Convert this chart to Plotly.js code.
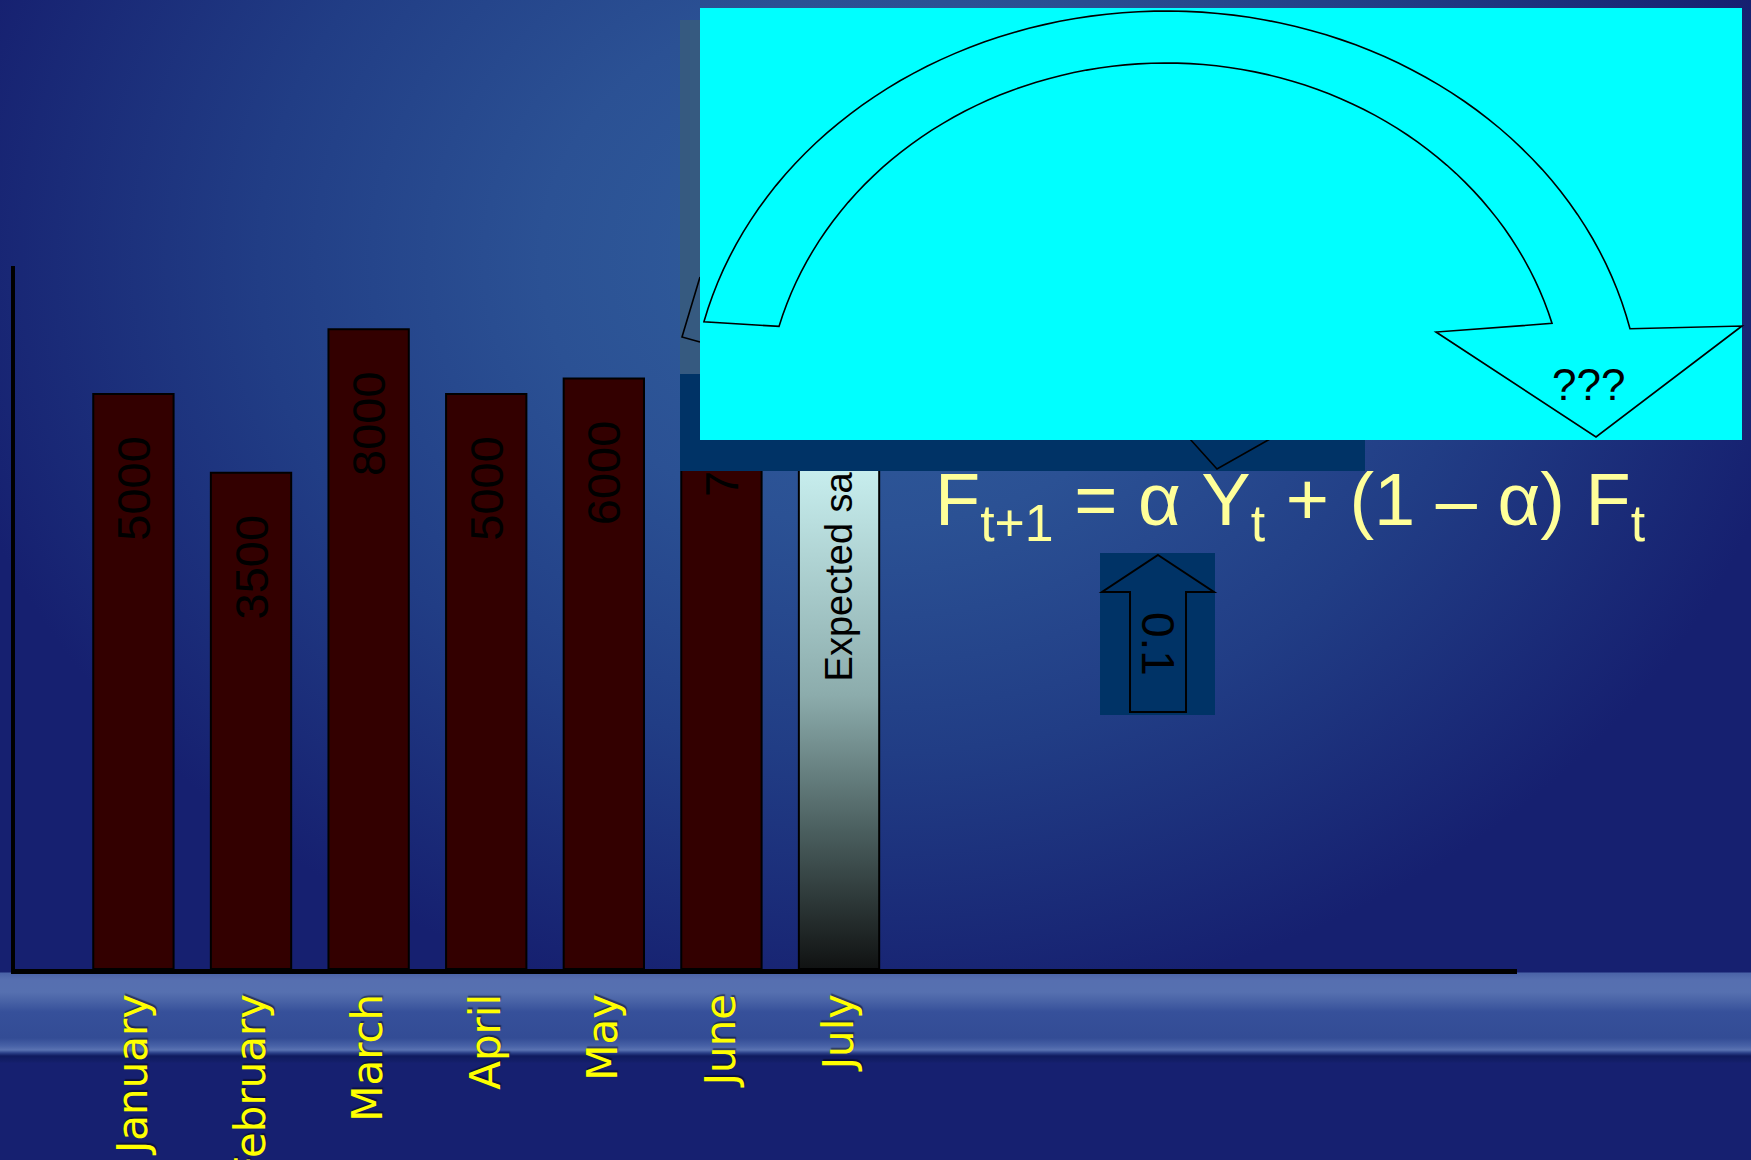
<!DOCTYPE html>
<html>
<head>
<meta charset="utf-8">
<script src="https://cdn.plot.ly/plotly-3.0.1.min.js"></script>
<style>
  body { margin: 0; background: #161f6c; }
  #myPlot {
    width: 1751px;
    height: 1160px;
    background:
      linear-gradient(to bottom, rgba(0,0,0,0) 972px, #4a63a7 973px, #566fb0 980px, #5670b0 992px, #4761a5 1002px, #36509a 1012px, #334c95 1038px, #4862a7 1046px, #5a73b2 1050px, #2a3f88 1053px, #0f1a5e 1056px, #141f6a 1062px, rgba(0,0,0,0) 1063px),
      radial-gradient(ellipse 940px 760px at 870px 260px, #31609e 0%, #2b5194 35%, #213d85 65%, #162070 100%);
  }
</style>
</head>
<body>
<div id="myPlot"></div>
<script>
// chart data
const months = ["January", "February", "March", "April", "May", "June", "July"];
const salesLabels = [5000, 3500, 8000, 5000, 6000, 7000];
const forecastLabel = "Expected sales";
// bar lengths as drawn on the slide, in % of the y axis height (not to scale with the labels)
const barHeights = [81.8, 70.6, 91.0, 81.8, 84.0, 88.0, 78.0];
const alphaLabel = "0.1";
const unknownLabel = "???";

const W = 1751;
const H = 1160;
const barWidth = 0.683;

// pixel -> paper helpers for the drawn decorations
const px = (x) => x / W;
const py = (y) => 1 - y / H;
const toPath = (pts, close) =>
  "M" + pts.map((p) => px(p[0]).toFixed(5) + "," + py(p[1]).toFixed(5)).join("L") + (close ? "Z" : "");

// elliptical arc points, angles in degrees
function arc(cx, cy, rx, ry, a0, a1, n) {
  const pts = [];
  for (let k = 0; k <= n; k++) {
    const t = ((a0 + (a1 - a0) * k / n) * Math.PI) / 180;
    pts.push([cx + rx * Math.cos(t), cy - ry * Math.sin(t)]);
  }
  return pts;
}

const xIdx = months.map((m, i) => i);
const pad = "\u00a0\u00a0\u00a0";
const barText = salesLabels.map((v) => v + pad).concat([forecastLabel]);
const barColors = salesLabels.map(() => "#330000").concat(["rgba(0,0,0,0)"]);
const textSizes = salesLabels.map(() => 47).concat([38]);

const bars = {
  type: "bar",
  x: xIdx,
  y: barHeights,
  width: barWidth,
  marker: { color: barColors, line: { color: "black", width: 2 } },
  text: barText,
  textposition: "inside",
  insidetextanchor: "end",
  textangle: -90,
  constraintext: "none",
  textfont: { family: "Liberation Sans, Arial, sans-serif", size: textSizes, color: "black" },
  hoverinfo: "skip",
};

// gradient fill for the forecast bar
const gradSvg =
  "<svg xmlns='http://www.w3.org/2000/svg' width='10' height='100' preserveAspectRatio='none'>" +
  "<defs><linearGradient id='g' x1='0' y1='0' x2='0' y2='1'>" +
  "<stop offset='0' stop-color='#d4fcfc'/><stop offset='0.5' stop-color='#8cacac'/>" +
  "<stop offset='0.75' stop-color='#4a5e5e'/><stop offset='1' stop-color='#101212'/>" +
  "</linearGradient></defs><rect width='10' height='100' fill='url(#g)'/></svg>";
const last = months.length - 1;

// big curved arrow
const outerArc = arc(1166, 420, 476, 409, 166.1, 12.9, 80);
const innerArc = arc(1166, 420, 401, 357, 15.7, 164.8, 80);
const bigArrow = outerArc.concat([[1742, 326], [1596, 437], [1436, 332]], innerArc);

const line = { color: "black", width: 1.6 };
const shapes = [
  { type: "rect", xref: "paper", yref: "paper", x0: px(680), x1: px(1365), y0: py(374), y1: py(20),
    fillcolor: "#365a80", line: { width: 0 }, layer: "above" },
  { type: "rect", xref: "paper", yref: "paper", x0: px(680), x1: px(1365), y0: py(471), y1: py(374),
    fillcolor: "#003366", line: { width: 0 }, layer: "above" },
  { type: "path", xref: "paper", yref: "paper", path: toPath([[700, 277], [682, 337], [700, 342]]),
    line: line, layer: "above" },
  { type: "path", xref: "paper", yref: "paper", path: toPath([[1190, 439], [1217, 469], [1270, 439]]),
    line: line, layer: "above" },
  { type: "rect", xref: "paper", yref: "paper", x0: px(700), x1: px(1742), y0: py(440), y1: py(8),
    fillcolor: "#00ffff", line: { width: 0 }, layer: "above" },
  { type: "path", xref: "paper", yref: "paper", path: toPath(bigArrow, true),
    fillcolor: "#00ffff", line: line, layer: "above" },
  // small up arrow for alpha
  { type: "rect", xref: "paper", yref: "paper", x0: px(1100), x1: px(1215), y0: py(715), y1: py(553),
    fillcolor: "#003366", line: { width: 0 }, layer: "above" },
  { type: "path", xref: "paper", yref: "paper",
    path: toPath([[1158, 555], [1214, 592], [1186, 592], [1186, 712], [1130, 712], [1130, 592], [1102, 592]], true),
    fillcolor: "#003366", line: { color: "black", width: 2 }, layer: "above" },
];

const annotations = [
  { xref: "paper", yref: "paper", x: px(933), y: py(505), xanchor: "left", yanchor: "middle",
    text: "F<sub>t+1</sub> = α Y<sub>t</sub> + (1 – α) F<sub>t</sub>", showarrow: false,
    font: { family: "Liberation Sans, Arial, sans-serif", size: 74, color: "#ffff99" } },
  { xref: "paper", yref: "paper", x: px(1588), y: py(385), xanchor: "center", yanchor: "middle",
    text: unknownLabel, showarrow: false,
    font: { family: "Liberation Sans, Arial, sans-serif", size: 44, color: "black" } },
  { xref: "paper", yref: "paper", x: px(1158), y: py(644), xanchor: "center", yanchor: "middle",
    text: alphaLabel, textangle: 90, showarrow: false,
    font: { family: "Liberation Sans, Arial, sans-serif", size: 46, color: "black" } },
];

const layout = {
  width: W,
  height: H,
  margin: { l: 0, r: 0, t: 0, b: 0 },
  paper_bgcolor: "rgba(0,0,0,0)",
  plot_bgcolor: "rgba(0,0,0,0)",
  showlegend: false,
  xaxis: {
    domain: [px(15), px(1517)],
    range: [-1.007, 11.765],
    tickmode: "array",
    tickvals: xIdx,
    ticktext: months,
    tickangle: -90,
    ticks: "",
    ticklabelstandoff: 3,
    tickfont: { family: "DejaVu Sans, Verdana, sans-serif", size: 42, color: "#ffff00",
                shadow: "2px 1px 1px rgba(0,0,0,0.45)" },
    showline: true,
    linecolor: "black",
    linewidth: 5,
    showgrid: false,
    zeroline: false,
    fixedrange: true,
  },
  yaxis: {
    domain: [py(969), py(266)],
    range: [0, 100],
    showline: true,
    linecolor: "black",
    linewidth: 4,
    showticklabels: false,
    ticks: "",
    showgrid: false,
    zeroline: false,
    fixedrange: true,
  },
  images: [{
    source: "data:image/svg+xml;charset=utf-8," + encodeURIComponent(gradSvg),
    xref: "x", yref: "y",
    x: last - barWidth / 2, y: barHeights[last],
    sizex: barWidth, sizey: barHeights[last],
    xanchor: "left", yanchor: "top",
    sizing: "stretch",
    layer: "below",
  }],
  shapes: shapes,
  annotations: annotations,
};

Plotly.newPlot("myPlot", [bars], layout, { displayModeBar: false, staticPlot: true });
</script>
</body>
</html>
